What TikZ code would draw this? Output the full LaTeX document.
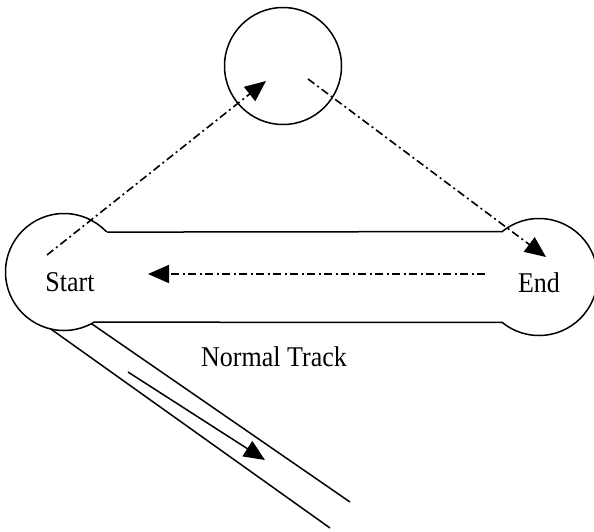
\documentclass[tikz,border=0pt]{standalone}
\usepackage{fontspec}
\setmainfont{Liberation Serif}
\usetikzlibrary{arrows.meta}
\newcommand{\stxt}[1]{\scalebox{1}[1.1]{#1}}
\begin{document}
\begin{tikzpicture}[x=1pt,y=-1pt,
  ring/.style={circle, draw, line width=1.5pt, minimum size=117pt, inner sep=0pt, outer sep=0pt},
  rail/.style={line width=1.5pt},
  dashdot/.style={line width=1.6pt, dash pattern=on 8pt off 3.5pt on 2pt off 3.5pt},
  tipped/.style={-{Triangle[length=21pt,width=18pt]}},
  lbl/.style={font=\fontsize{26}{30}\selectfont, inner sep=0pt}
]
\useasboundingbox (0,0) rectangle (594,531);
% circles
\node[ring] (top) at (283,66) {};
\node[ring] (start) at (64,272) {};
\node[ring] (end) at (539,277) {};
% hide the circle arcs inside the track
\fill[white] (start.-59.5) rectangle (end.129.4);
% normal track
\draw[rail] (start.43.6) -- (end.129.4);
\draw[rail] (start.-59.5) -- (end.-129.4);
% diagonal track
\coordinate (dA) at (330,528);
\coordinate (dB) at (350,502);
\draw[rail] (start.-103) -- (dA);
\draw[rail] (start.-62) -- (dB);
\coordinate (m1) at (128,372);
\coordinate (m2) at (265,460);
\draw[rail, tipped] (m1) -- (m2);
% dash-dot arrows
\coordinate (a1) at (47,255);
\coordinate (a2) at (266,81);
\draw[dashdot, tipped] (a1) -- (a2);
\coordinate (b1) at (308,79);
\coordinate (b2) at (546,257);
\draw[dashdot, tipped] (b1) -- (b2);
\coordinate (c1) at (485,274);
\coordinate (c2) at (148,274);
\draw[dashdot, tipped] (c1) -- (c2);
% labels
\node[lbl] (startlbl) at (70,282) {\stxt{Start}};
\node[lbl] (endlbl) at (539,283) {\stxt{End}};
\node[lbl] (tracklbl) at (274,357) {\stxt{Normal Track}};
\end{tikzpicture}
\end{document}
